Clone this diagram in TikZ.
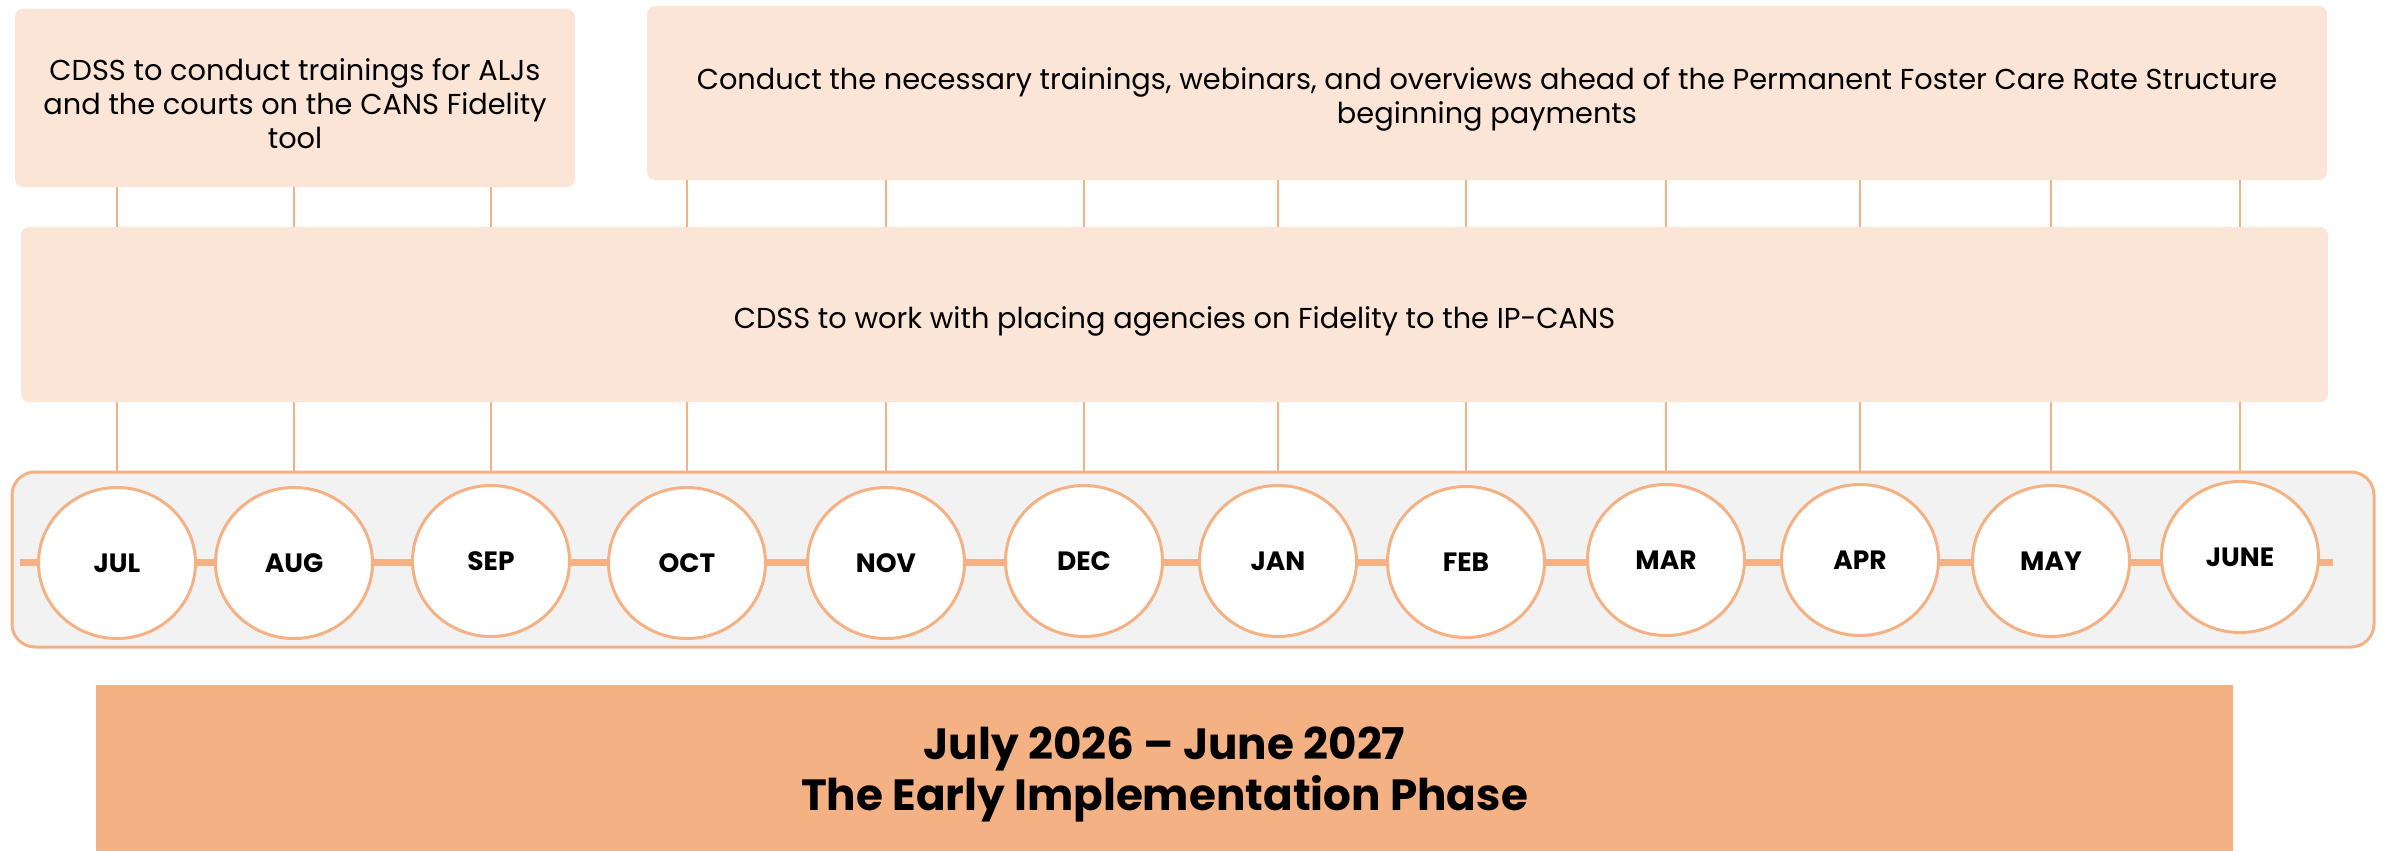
\documentclass[tikz,border=0pt]{standalone}
\usepackage{fontspec}
\setmainfont{Poppins}
\usetikzlibrary{shapes.geometric}
\definecolor{peach}{HTML}{FBE5D6}
\definecolor{orng}{HTML}{F4B183}
\definecolor{panelgray}{HTML}{F2F2F2}
\newcommand{\topstrut}[1]{\rule{0pt}{#1}}
\begin{document}
\begin{tikzpicture}[x=1pt,y=-1pt,
  taskbox/.style={fill=peach, rounded corners=8pt, inner sep=0pt, align=center,
    font=\fontsize{28.8}{34}\selectfont},
  month/.style={ellipse, draw=orng, line width=3pt, fill=white, minimum width=157pt,
    minimum height=151pt, inner sep=0pt, font=\bfseries\fontsize{26.5}{30}\selectfont},
  tickline/.style={draw=orng, line width=1.5pt},
  axisline/.style={draw=orng, line width=7pt},
  panelbox/.style={draw=orng, line width=3pt, fill=panelgray, rounded corners=23pt,
    minimum width=2362pt, minimum height=175pt, inner sep=0pt},
  phasebox/.style={fill=orng, inner sep=0pt, align=center,
    font=\bfseries\fontsize{43.7}{51}\selectfont}]
\useasboundingbox (0,0) rectangle (2386,851);

% timeline panel
\node[panelbox] (panel) at (1193,559.5) {};
\coordinate (axL) at (20,562);
\coordinate (axR) at (2333,562);
\draw[axisline] (axL) -- (axR);

% months
\node[month] (jul) at (117,563) {JUL};
\node[month] (aug) at (294,563) {AUG};
\node[month] (sep) at (491,561) {SEP};
\node[month] (oct) at (687,563) {OCT};
\node[month] (nov) at (886,563) {NOV};
\node[month] (dec) at (1084,561) {DEC};
\node[month] (jan) at (1278,561) {JAN};
\node[month] (feb) at (1466,562) {FEB};
\node[month] (mar) at (1666,560) {MAR};
\node[month] (apr) at (1860,560) {APR};
\node[month] (may) at (2051,561) {MAY};
\node[month] (jun) at (2240,557) {JUNE};

% task boxes
\node[taskbox, minimum width=560pt, minimum height=178pt] (t1) at (295,98)
  {\topstrut{34pt}CDSS to conduct trainings for ALJs\\and the courts on the CANS Fidelity\\tool};
\node[taskbox, minimum width=1680pt, minimum height=174pt] (t2) at (1487,93)
  {\topstrut{34pt}Conduct the necessary trainings, webinars, and overviews ahead of the Permanent Foster Care Rate Structure\\beginning payments};

% tick lines
\foreach \m in {jul,aug,sep}
  \draw[tickline] (t1.south -| \m) -- (panel.north -| \m);
\foreach \m in {oct,nov,dec,jan,feb,mar,apr,may,jun}
  \draw[tickline] (t2.south -| \m) -- (panel.north -| \m);

\node[taskbox, minimum width=2307pt, minimum height=175pt] (t3) at (1174.5,314.5)
  {\topstrut{36pt}CDSS to work with placing agencies on Fidelity to the IP-CANS};

% phase box
\node[phasebox, minimum width=2137pt, minimum height=166pt] (phase) at (1164.5,768)
  {\topstrut{46pt}July 2026 – June 2027\\The Early Implementation Phase};
\end{tikzpicture}
\end{document}
